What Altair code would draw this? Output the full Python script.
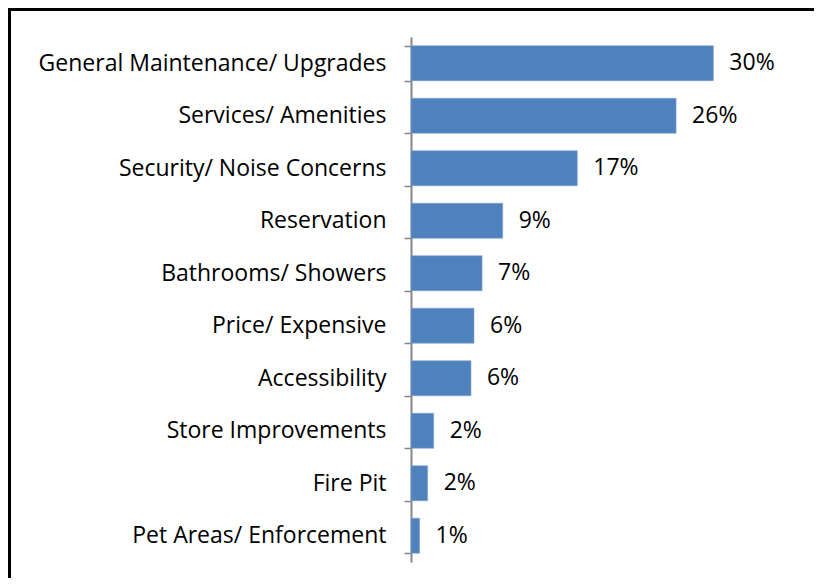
import altair as alt
import pandas as pd

categories = [
    "General Maintenance/ Upgrades",
    "Services/ Amenities",
    "Security/ Noise Concerns",
    "Reservation",
    "Bathrooms/ Showers",
    "Price/ Expensive",
    "Accessibility",
    "Store Improvements",
    "Fire Pit",
    "Pet Areas/ Enforcement",
]
values = [30.0, 26.3, 16.5, 9.1, 7.05, 6.25, 5.95, 2.25, 1.65, 0.85]
labels = ["30%", "26%", "17%", "9%", "7%", "6%", "6%", "2%", "2%", "1%"]

df = pd.DataFrame({"cat": categories, "val": values, "lab": labels})

FONT = "Open Sans"
FS = 23
W, H = 383, 525

y_enc = alt.Y(
    "cat:N",
    sort=categories,
    scale=alt.Scale(paddingInner=1 / 3, paddingOuter=1 / 6),
    axis=alt.Axis(
        title=None,
        tickBand="extent",
        domainColor="#868686",
        domainWidth=2,
        tickColor="#868686",
        tickWidth=1.5,
        tickSize=7,
        labelFont=FONT,
        labelFontSize=FS,
        labelFontWeight="normal",
        labelColor="black",
        labelPadding=18,
        labelLimit=420,
        grid=False,
    ),
)
x_scale = alt.Scale(domain=[0, 38], nice=False, zero=True)

bars = alt.Chart(df).mark_bar(color="#4F81BD", stroke="#7FA3D3", strokeWidth=0.6).encode(
    x=alt.X("val:Q", scale=x_scale, axis=None),
    y=y_enc,
)
text = alt.Chart(df).mark_text(
    align="left", baseline="middle", dx=16, font=FONT, fontSize=FS,
    fontWeight="normal", color="black"
).encode(
    x=alt.X("val:Q", scale=x_scale, axis=None),
    y=alt.Y("cat:N", sort=categories),
    text="lab:N",
)
frame = alt.Data(values=[{"a": 1}])
left_rule = alt.Chart(frame).mark_rule(color="black", strokeWidth=6).encode(
    x=alt.value(-403), y=alt.value(-40), y2=alt.value(H + 30)
)
top_rule = alt.Chart(frame).mark_rule(color="black", strokeWidth=6).encode(
    y=alt.value(-29), x=alt.value(-410), x2=alt.value(W + 40)
)

chart = (
    alt.layer(bars, text, left_rule, top_rule)
    .properties(
        width=W,
        height=H,
        autosize=alt.AutoSizeParams(type="none"),
        padding={"left": 403, "top": 29, "right": 20, "bottom": 16},
    )
    .configure_view(stroke=None)
)

chart.save("out.html", embed_options={"renderer": "svg", "actions": False})
